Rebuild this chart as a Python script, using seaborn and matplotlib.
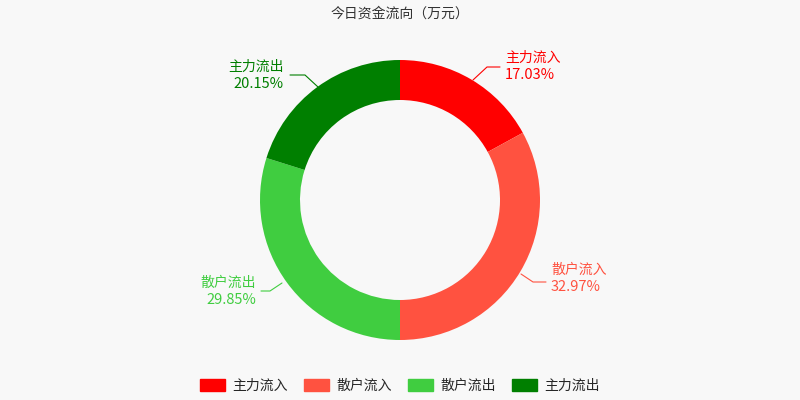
import matplotlib.pyplot as plt
import matplotlib.patches as mpatches
import seaborn as sns

names = ["主力流入", "散户流入", "散户流出", "主力流出"]
shares = [17.03, 32.97, 29.85, 20.15]
colors = ["#ff0000", "#ff5240", "#40cd40", "#007f00"]

sns.set_style("white")
plt.rcParams["font.family"] = ["Noto Sans CJK SC", "DejaVu Sans"]

fig = plt.figure(figsize=(8, 4), dpi=100, facecolor="#f8f8f8")
ax = fig.add_axes([0, 0, 1, 1])
ax.set_facecolor("#f8f8f8")
ax.set_xlim(0, 800)
ax.set_ylim(0, 400)
ax.set_aspect("equal")
ax.axis("off")

ax.pie(shares, colors=colors, startangle=90, counterclock=False,
       center=(400, 200), radius=140, frame=True,
       wedgeprops=dict(width=40, edgecolor="none"))
ax.set_xlim(0, 800)
ax.set_ylim(0, 400)
ax.axis("off")

# label placement in pixel coords (y from top)
labels = [
    # line points, text x, text y, ha
    ([(473, 80), (487, 67), (500, 67)], 505, 58, "left"),
    ([(521, 274), (533, 282), (546, 282)], 551, 270, "left"),
    ([(282, 283), (270, 291), (261, 291)], 256, 283, "right"),
    ([(318, 87), (305, 75), (290, 75)], 284, 67, "right"),
]
for (pts, tx, ty, ha), n, s, c in zip(labels, names, shares, colors):
    ax.plot([p[0] for p in pts], [400 - p[1] for p in pts], color=c, lw=0.8)
    ax.text(tx, 400 - ty, n, color=c, fontsize=10, ha=ha, va="center")
    ax.text(tx, 400 - ty - 17, f"{s:.2f}%", color=c, fontsize=10.5, ha=ha, va="center")

fig.text(0.5, 1 - 14 / 400, "今日资金流向（万元）", ha="center", va="center",
         fontsize=10, color="#333333")

handles = [mpatches.FancyBboxPatch((0, 0), 1, 1, boxstyle="round,pad=0.1", color=c)
           for c in colors]
fig.legend(handles, names, loc="center", bbox_to_anchor=(0.5, 1 - 386 / 400),
           ncol=4, frameon=False, fontsize=10, handlelength=1.8, handleheight=1.0,
           columnspacing=1.2, handletextpad=0.5)

fig.savefig("out.png", dpi=100, facecolor="#f8f8f8")
